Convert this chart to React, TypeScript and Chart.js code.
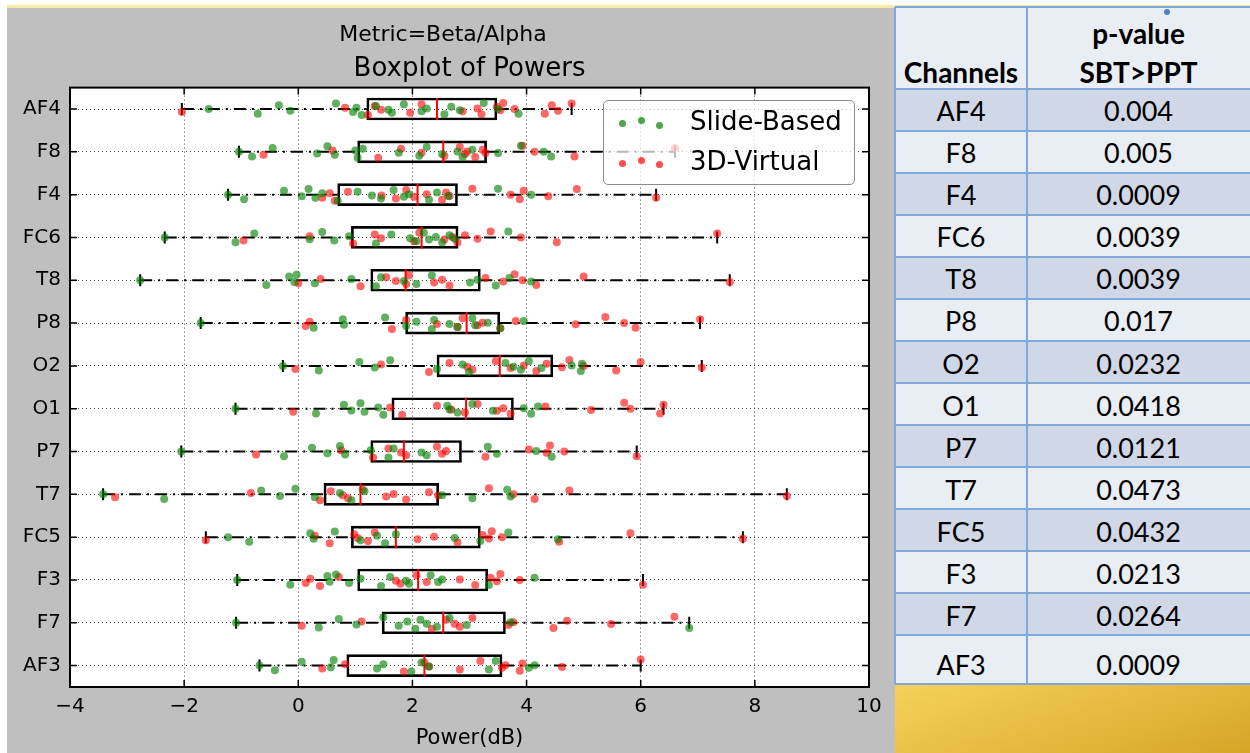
import React, { useEffect, useRef } from 'react';
import { Chart, registerables } from 'chart.js';

Chart.register(...registerables);

// ---------------- DATA ----------------
const channels = ['AF4', 'F8', 'F4', 'FC6', 'T8', 'P8', 'O2', 'O1', 'P7', 'T7', 'FC5', 'F3', 'F7', 'AF3'];

const boxMin = [-2.04, -1.04, -1.23, -2.34, -2.77, -1.71, -0.27, -1.10, -2.05, -3.42, -1.62, -1.07, -1.09, -0.68];
const boxQ1 = [1.20, 1.04, 0.69, 0.93, 1.27, 1.88, 2.43, 1.64, 1.27, 0.45, 0.93, 1.04, 1.47, 0.85];
const boxMedian = [2.43, 2.54, 2.09, 2.16, 1.88, 2.95, 3.53, 2.94, 1.85, 1.09, 1.71, 2.10, 2.54, 2.21];
const boxQ3 = [3.48, 3.30, 2.79, 2.80, 3.19, 3.53, 4.46, 3.77, 2.86, 2.46, 3.19, 3.32, 3.63, 3.57];
const boxMax = [4.79, 6.60, 6.27, 7.34, 7.56, 7.04, 7.07, 6.40, 5.93, 8.56, 7.79, 6.04, 6.85, 6.00];

// Slide-Based (green) values per channel
const slideBased = [
  [-1.57, -0.71, -0.34, -0.14, 0.66, 0.96, 1.02, 1.11, 1.36, 1.58, 1.64, 1.85, 2.16, 2.25, 2.56, 2.68, 2.83, 3.25, 3.50, 3.86],
  [-1.04, -0.81, -0.45, 0.33, 0.51, 0.64, 1.00, 1.04, 1.13, 1.76, 2.12, 2.25, 2.52, 2.79, 2.88, 3.05, 3.50, 3.90, 4.30, 4.43],
  [-1.23, -0.95, -0.25, 0.06, 0.18, 0.30, 0.42, 0.69, 1.04, 1.29, 1.45, 1.67, 1.85, 1.94, 2.29, 2.43, 2.63, 3.50, 4.08],
  [-2.34, -1.10, -0.77, 0.20, 0.42, 0.63, 0.89, 1.36, 1.63, 1.96, 2.07, 2.20, 2.29, 2.41, 2.52, 2.65, 2.74, 3.68],
  [-2.77, -0.56, -0.16, -0.07, -0.03, 0.29, 0.93, 1.36, 1.45, 1.85, 2.07, 2.34, 3.01, 3.14, 3.46, 3.70, 4.08],
  [-1.71, 0.27, 0.78, 0.80, 1.52, 1.89, 2.07, 2.34, 2.38, 2.65, 2.79, 3.05, 3.10, 3.32, 3.54, 3.95],
  [-0.27, 0.36, 1.07, 1.34, 1.61, 2.43, 2.88, 2.99, 3.63, 3.77, 3.90, 4.04, 4.26, 4.79, 4.95, 4.97],
  [-1.10, 0.31, 0.80, 0.93, 1.09, 1.16, 1.40, 1.49, 2.61, 2.65, 2.79, 3.05, 3.41, 3.95, 4.08, 4.20],
  [-2.05, -0.25, 0.24, 0.51, 0.73, 0.82, 1.27, 1.58, 1.67, 2.16, 2.25, 3.32, 3.48, 4.17, 4.44],
  [-3.42, -2.35, -0.65, -0.32, -0.05, 0.29, 0.73, 0.93, 1.16, 2.52, 3.05, 3.66, 3.72],
  [-1.23, -0.86, 0.21, 0.27, 0.64, 1.09, 1.38, 1.52, 1.71, 2.74, 3.19, 3.68, 4.55],
  [-1.07, -0.14, 0.51, 0.55, 0.66, 0.89, 1.09, 1.45, 1.61, 1.89, 1.94, 2.32, 2.45, 2.52, 3.34, 4.14],
  [-1.09, 0.36, 0.71, 1.02, 1.49, 1.76, 1.91, 2.05, 2.14, 2.25, 2.43, 2.65, 2.95, 3.72, 6.85],
  [-0.68, -0.41, 0.06, 0.57, 0.62, 1.38, 1.49, 1.98, 2.16, 2.29, 3.34, 3.46, 4.04, 4.14],
];

// 3D-Virtual (red) values per channel
const virtual3D = [
  [-2.04, 0.82, 1.22, 1.34, 1.45, 1.96, 2.16, 2.88, 3.14, 3.21, 3.48, 3.54, 3.59, 3.79, 4.32, 4.44, 4.55, 4.79],
  [-0.61, 0.60, 1.40, 1.80, 2.16, 2.56, 2.83, 2.92, 2.96, 3.10, 3.23, 3.28, 3.93, 4.14, 4.84, 6.60],
  [0.42, 0.55, 0.64, 0.87, 1.46, 1.71, 1.89, 2.03, 2.25, 2.52, 2.59, 2.65, 3.05, 3.72, 3.88, 3.95, 4.38, 4.88, 6.27],
  [-0.96, 0.20, 0.96, 1.34, 1.45, 2.03, 2.12, 2.56, 2.70, 2.79, 2.92, 3.14, 3.37, 3.90, 4.53, 7.34],
  [0.00, 0.39, 1.09, 1.54, 1.71, 1.89, 1.94, 2.38, 2.52, 2.65, 3.28, 3.59, 3.79, 3.93, 4.17, 5.00, 7.56],
  [0.13, 0.20, 1.64, 1.89, 2.43, 2.79, 2.88, 3.14, 3.23, 3.54, 3.81, 4.86, 5.38, 5.71, 5.91, 7.04],
  [-0.05, 1.45, 2.29, 2.65, 2.96, 3.05, 3.46, 3.72, 3.95, 4.17, 4.35, 4.62, 4.75, 5.00, 5.57, 6.00, 7.07],
  [-0.09, 1.61, 1.82, 2.43, 2.68, 2.92, 3.14, 3.48, 3.59, 3.72, 4.33, 5.13, 5.71, 5.82, 6.34, 6.40],
  [-0.74, 0.75, 1.31, 1.58, 1.80, 1.89, 2.43, 2.52, 2.59, 3.28, 4.04, 4.35, 4.41, 4.66, 5.93],
  [-3.21, -0.83, 0.38, 0.57, 0.78, 0.87, 1.13, 1.54, 1.67, 1.89, 2.29, 2.45, 3.34, 3.77, 4.14, 4.75, 8.56],
  [-1.62, 0.29, 0.55, 0.98, 1.04, 1.22, 1.34, 2.09, 2.38, 2.79, 3.23, 3.34, 3.39, 3.57, 4.57, 5.82, 7.79],
  [0.13, 0.21, 0.38, 0.71, 1.71, 1.79, 2.07, 2.25, 2.83, 3.10, 3.37, 3.48, 3.54, 3.88, 6.04],
  [0.06, 1.11, 2.34, 2.59, 2.74, 2.83, 3.05, 3.68, 3.77, 4.47, 4.71, 5.48, 6.59],
  [0.42, 0.82, 1.85, 2.21, 2.29, 2.83, 3.19, 3.57, 3.63, 3.88, 3.93, 4.62, 6.00],
];

const powerTicks = [-4, -2, 0, 2, 4, 6, 8, 10];

const pValues = ['0.004', '0.005', '0.0009', '0.0039', '0.0039', '0.017', '0.0232', '0.0418', '0.0121', '0.0473', '0.0432', '0.0213', '0.0264', '0.0009'];

const titleText = 'Metric=Beta/Alpha';
const subtitleText = 'Boxplot of Powers';
const xAxisTitle = 'Power(dB)';
const seriesNames = ['Slide-Based', '3D-Virtual'];
const tableHeaders = ['Channels', 'p-value', 'SBT>PPT'];

// ---------------- STYLE ----------------
const MPL_FONT = '"DejaVu Sans", sans-serif';
const TABLE_FONT = 'Lato, "Open Sans", sans-serif';
const GREEN = 'rgba(0,128,0,0.62)';
const RED = 'rgba(255,0,0,0.6)';
// vertical jitter pattern (category units), purely positional
const JITTER = [0, 0.11, -0.09, 0.04, -0.13, 0.07, -0.03, 0.14, -0.07, 0.02, 0.09, -0.11, 0.05, -0.01, 0.12, -0.05, 0.03, -0.14];

function jittered(series: number[][], shift: number) {
  const out: { x: number; y: number }[] = [];
  series.forEach((vals, i) =>
    vals.forEach((v, k) => out.push({ x: v, y: i + JITTER[(k + shift) % JITTER.length] }))
  );
  return out;
}

const framePlugin = {
  id: 'mplFrame',
  beforeDraw(chart: any) {
    const { ctx, chartArea: a } = chart;
    ctx.save();
    ctx.fillStyle = '#ffffff';
    ctx.fillRect(a.left, a.top, a.right - a.left, a.bottom - a.top);
    ctx.restore();
  },
  afterDraw(chart: any) {
    const { ctx, chartArea: a, scales } = chart;
    ctx.save();
    ctx.strokeStyle = '#000';
    ctx.lineWidth = 1.5;
    ctx.beginPath();
    scales.x.ticks.forEach((t: any) => {
      const px = scales.x.getPixelForValue(t.value);
      ctx.moveTo(px, a.bottom); ctx.lineTo(px, a.bottom - 7);
      ctx.moveTo(px, a.top); ctx.lineTo(px, a.top + 7);
    });
    scales.y.ticks.forEach((t: any) => {
      const py = scales.y.getPixelForValue(t.value);
      ctx.moveTo(a.left, py); ctx.lineTo(a.left + 7, py);
      ctx.moveTo(a.right, py); ctx.lineTo(a.right - 7, py);
    });
    ctx.stroke();
    ctx.lineWidth = 2;
    ctx.strokeRect(a.left, a.top, a.right - a.left, a.bottom - a.top);
    ctx.restore();
  },
};

function ChartPanel() {
  const ref = useRef<HTMLCanvasElement>(null);
  useEffect(() => {
    if (!ref.current) return;
    const whiskers: any[] = [];
    const caps: any[] = [];
    channels.forEach((_, i) => {
      whiskers.push({ x: boxMin[i], y: i }, { x: boxQ1[i], y: i }, { x: null, y: null });
      whiskers.push({ x: boxQ3[i], y: i }, { x: boxMax[i], y: i }, { x: null, y: null });
      caps.push({ x: boxMin[i], y: i }, { x: boxMax[i], y: i });
    });
    const gridCommon = { color: '#444', lineWidth: 1, drawTicks: false, offset: false };
    const chart = new Chart(ref.current, {
      type: 'scatter',
      data: {
        datasets: [
          {
            label: seriesNames[0],
            data: jittered(slideBased, 0),
            backgroundColor: GREEN,
            pointRadius: 4,
            pointBorderWidth: 0,
            order: 0,
          },
          {
            label: seriesNames[1],
            data: jittered(virtual3D, 5),
            backgroundColor: RED,
            pointRadius: 4,
            pointBorderWidth: 0,
            order: 0,
          },
          {
            label: 'median',
            data: boxMedian.map((m, i) => ({ x: m, y: i })),
            pointStyle: 'line',
            pointRotation: 90,
            pointRadius: 11,
            pointBorderColor: '#ff0000',
            pointBorderWidth: 2,
            order: 1,
          },
          {
            label: 'caps',
            data: caps,
            pointStyle: 'line',
            pointRotation: 90,
            pointRadius: 6,
            pointBorderColor: '#000',
            pointBorderWidth: 2,
            order: 2,
          },
          {
            type: 'bar',
            label: 'box',
            indexAxis: 'y',
            data: channels.map((_, i) => ({ x: [boxQ1[i], boxQ3[i]], y: i })),
            backgroundColor: 'rgba(0,0,0,0)',
            borderColor: '#000',
            borderWidth: 2,
            borderSkipped: false,
            barThickness: 22,
            order: 3,
          } as any,
          {
            label: 'whiskers',
            data: whiskers,
            showLine: true,
            spanGaps: false,
            pointRadius: 0,
            borderColor: '#000',
            borderWidth: 2,
            borderDash: [12, 6, 2, 6],
            order: 4,
          } as any,
        ],
      },
      options: {
        responsive: false,
        animation: false,
        events: [],
        layout: { padding: { left: 10, right: 24, top: 0, bottom: 0 } },
        plugins: {
          legend: { display: false },
          tooltip: { enabled: false },
          title: {
            display: true,
            text: titleText,
            color: '#000',
            font: { family: MPL_FONT, size: 22, weight: 'normal' },
            padding: { top: 14, bottom: 0 },
          },
          subtitle: {
            display: true,
            fullSize: false,
            text: subtitleText,
            color: '#000',
            font: { family: MPL_FONT, size: 26, weight: 'normal' },
            padding: { top: 5, bottom: 3 },
          },
        },
        scales: {
          x: {
            type: 'linear',
            min: -4,
            max: 10,
            offset: false,
            beginAtZero: false,
            afterBuildTicks: (s: any) => { s.ticks = powerTicks.map((v) => ({ value: v })); },
            afterFit: (s: any) => { s.height = 66; },
            grid: gridCommon,
            border: { display: false, dash: [1, 3] },
            ticks: {
              color: '#000',
              font: { family: MPL_FONT, size: 20 },
              padding: 8,
              maxRotation: 0,
              autoSkip: false,
              callback: (v: any) => (v < 0 ? '\u2212' + Math.abs(v) : String(v)),
            },
            title: {
              display: true,
              text: xAxisTitle,
              color: '#000',
              font: { family: MPL_FONT, size: 21 },
              padding: { top: 0, bottom: 2 },
            },
          },
          y: {
            type: 'linear',
            min: -0.5,
            max: 13.5,
            reverse: true,
            offset: false,
            afterBuildTicks: (s: any) => { s.ticks = channels.map((_, i) => ({ value: i })); },
            afterFit: (s: any) => { s.width = 53; },
            grid: gridCommon,
            border: { display: false, dash: [1, 3] },
            ticks: {
              color: '#000',
              font: { family: MPL_FONT, size: 20 },
              padding: 9,
              autoSkip: false,
              callback: (v: any) => channels[v] ?? '',
            },
          },
        },
      } as any,
      plugins: [framePlugin],
    } as any);
    return () => chart.destroy();
  }, []);
  return (
    <canvas
      ref={ref}
      width={886}
      height={745}
      style={{ position: 'absolute', left: 7, top: 8, width: 886, height: 745 }}
    />
  );
}

function Legend() {
  const dot = (cx: number, cy: number, color: string) => (
    <div
      style={{
        position: 'absolute', left: cx - 3.5, top: cy - 3.5, width: 7, height: 7,
        borderRadius: '50%', background: color,
      }}
    />
  );
  const textStyle: React.CSSProperties = {
    position: 'absolute', left: 86, fontFamily: MPL_FONT, fontSize: 26, lineHeight: '30px',
    color: '#000', whiteSpace: 'nowrap',
  };
  return (
    <div
      style={{
        position: 'absolute', left: 603, top: 100, width: 252, height: 85, boxSizing: 'border-box',
        border: '1.5px solid #8a8a8a', borderRadius: 5, background: 'rgba(255,255,255,0.72)',
      }}
    >
      {dot(18, 22, 'rgba(0,128,0,0.7)')}
      {dot(37, 19, 'rgba(0,128,0,0.7)')}
      {dot(55, 24, 'rgba(0,128,0,0.7)')}
      {dot(18, 62, 'rgba(255,0,0,0.7)')}
      {dot(37, 59, 'rgba(255,0,0,0.7)')}
      {dot(55, 63, 'rgba(255,0,0,0.7)')}
      <div style={{ ...textStyle, top: 5 }}>{seriesNames[0]}</div>
      <div style={{ ...textStyle, top: 45 }}>{seriesNames[1]}</div>
    </div>
  );
}

function PTable() {
  const LEFT = 895;
  const TOP = 7;
  const COL1 = 132;
  const WIDTH = 355;
  const HEADER_BOTTOM = 88.7;
  const ROW_H = 42.05;
  const BOTTOM = 684;
  const LINE = '#7eaadb';
  const cellText: React.CSSProperties = {
    position: 'absolute', fontFamily: TABLE_FONT, fontSize: 27, lineHeight: '32px', color: '#000',
    textAlign: 'center', whiteSpace: 'nowrap',
  };
  const rows = channels.map((ch, i) => {
    const top = HEADER_BOTTOM + i * ROW_H;
    const bottom = i === channels.length - 1 ? BOTTOM : top + ROW_H;
    const textTop = i === channels.length - 1 ? 14 : 6.5;
    return (
      <div
        key={ch}
        style={{
          position: 'absolute', left: LEFT, top, width: WIDTH, height: bottom - top,
          background: i % 2 === 0 ? '#d0d8e8' : '#e9edf4',
        }}
      >
        <div style={{ ...cellText, left: 0, width: COL1, top: textTop }}>{ch}</div>
        <div style={{ ...cellText, left: COL1, width: WIDTH - COL1, top: textTop }}>{pValues[i]}</div>
      </div>
    );
  });
  const hLines = [TOP, ...channels.map((_, i) => HEADER_BOTTOM + i * ROW_H), BOTTOM].map((y, k) => (
    <div key={'h' + k} style={{ position: 'absolute', left: LEFT, top: y - 1, width: WIDTH, height: 2, background: LINE }} />
  ));
  return (
    <>
      <div style={{ position: 'absolute', left: LEFT, top: TOP, width: WIDTH, height: HEADER_BOTTOM - TOP, background: '#e9edf4' }}>
        <div style={{ ...cellText, left: 0, width: COL1, top: 48.5, fontWeight: 700, fontSize: 28 }}>{tableHeaders[0]}</div>
        <div style={{ ...cellText, left: COL1, width: WIDTH - COL1, top: 9.5, fontWeight: 700, fontSize: 28 }}>{tableHeaders[1]}</div>
        <div style={{ ...cellText, left: COL1, width: WIDTH - COL1, top: 48.5, fontWeight: 700, fontSize: 28 }}>{tableHeaders[2]}</div>
      </div>
      {rows}
      {hLines}
      <div style={{ position: 'absolute', left: LEFT - 1, top: TOP, width: 2, height: BOTTOM - TOP, background: LINE }} />
      <div style={{ position: 'absolute', left: LEFT + COL1 - 1, top: TOP, width: 2, height: BOTTOM - TOP, background: LINE }} />
      <div
        style={{
          position: 'absolute', left: LEFT, top: BOTTOM + 1, width: WIDTH, height: 753 - BOTTOM - 1,
          background: 'linear-gradient(160deg, #f4d25c 0%, #e6b93e 55%, #d5a527 100%)',
        }}
      />
      <div style={{ position: 'absolute', left: 1164, top: 9, width: 6, height: 6, borderRadius: '50%', background: '#4f81bd' }} />
    </>
  );
}

export default function App() {
  return (
    <div
      style={{
        position: 'fixed', left: 0, top: 0, width: 1250, height: 753, background: '#ffffff', overflow: 'hidden',
      }}
    >
      <div style={{ position: 'absolute', left: 7, top: 5, width: 1243, height: 3, background: '#fde9a6' }} />
      <div style={{ position: 'absolute', left: 7, top: 8, width: 888, height: 745, background: '#bfbfbf' }} />
      <ChartPanel />
      <Legend />
      <PTable />
    </div>
  );
}
